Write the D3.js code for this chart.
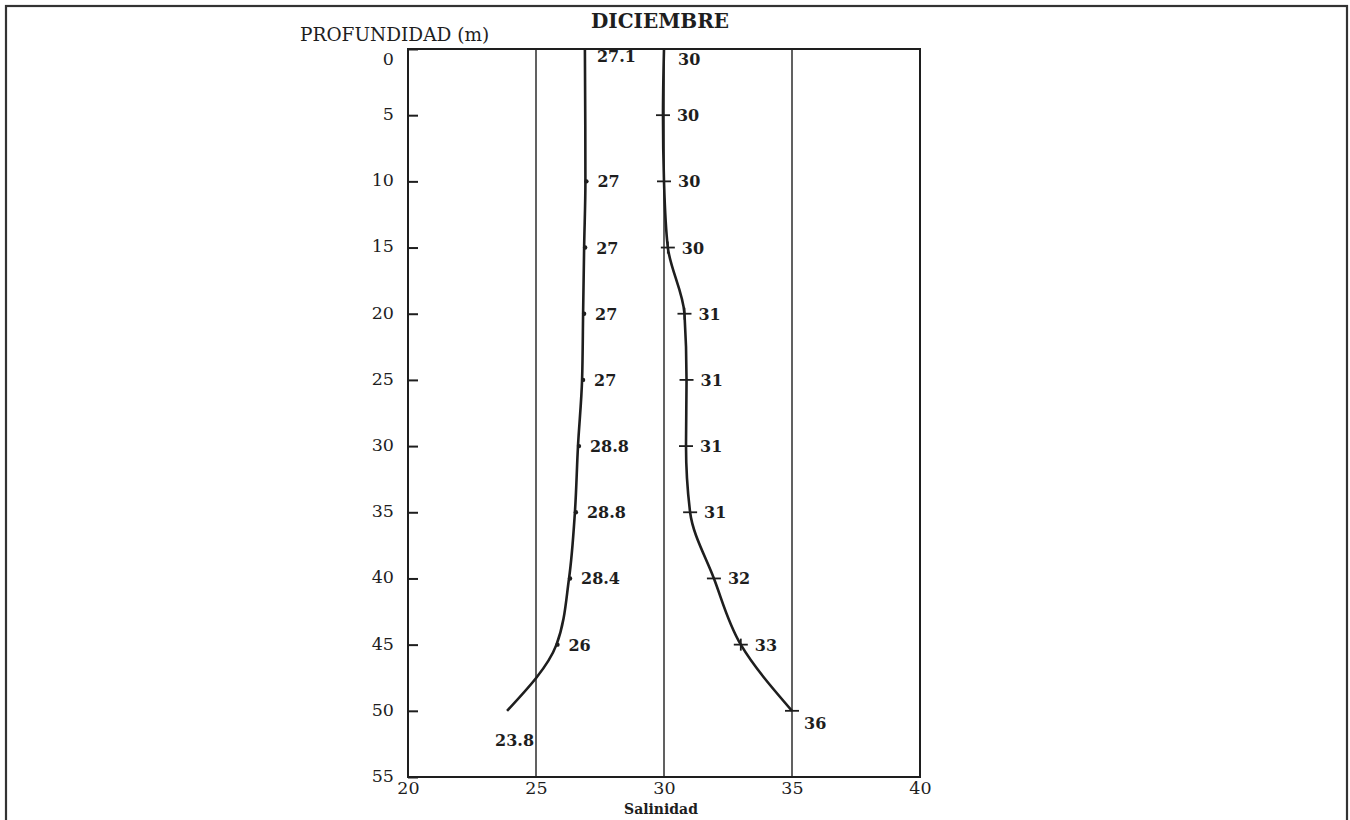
<!DOCTYPE html>
<html><head><meta charset="utf-8">
<script src="https://cdn.jsdelivr.net/npm/d3@7"></script>
<style>body{margin:0;background:#fff}svg{display:block}</style>
</head><body><svg id="c" width="1350" height="820"></svg>
<script>
// ---- data ----
const xTicks = [20, 25, 30, 35, 40];
const gridValues = [25, 30, 35];
const yTicks = [0, 5, 10, 15, 20, 25, 30, 35, 40, 45, 50, 55];

// temperature-like profile (left curve): depth, plotted position, printed label
const tempDepths = [0, 10, 15, 20, 25, 30, 35, 40, 45, 50];
const tempPos    = [26.91, 26.93, 26.88, 26.84, 26.8, 26.64, 26.52, 26.29, 25.8, 23.87];
const tempLabels = ["27.1", "27", "27", "27", "27", "28.8", "28.8", "28.4", "26", "23.8"];

// salinity profile (right curve)
const salDepths = [0, 5, 10, 15, 20, 25, 30, 35, 40, 45, 50];
const salPos    = [30.0, 29.96, 30.0, 30.15, 30.8, 30.88, 30.86, 31.02, 31.95, 33.0, 35.0];
const salLabels = ["30", "30", "30", "30", "31", "31", "31", "31", "32", "33", "36"];
const salMarks  = ["", "-", "+", "+", "+", "-", "-", "-", "-", "+", "-"];

// ---- drawing ----
const ink = "#1e1e1e";
const svg = d3.select("#c");
const L = 408, R = 920, T = 49, B = 777;
const x = d3.scaleLinear().domain([20, 40]).range([L, R]);
const y = d3.scaleLinear().domain([0, 55]).range([T, B]);

// outer border
svg.append("rect").attr("x", 6).attr("y", 6).attr("width", 1341).attr("height", 830)
  .attr("fill", "none").attr("stroke", "#333").attr("stroke-width", 2.2);

// gridlines
svg.append("g").selectAll("line").data(gridValues).join("line")
  .attr("x1", d => x(d)).attr("x2", d => x(d)).attr("y1", T).attr("y2", B)
  .attr("stroke", ink).attr("stroke-width", 1.4);

// frame
svg.append("rect").attr("x", L).attr("y", T).attr("width", R - L).attr("height", B - T)
  .attr("fill", "none").attr("stroke", ink).attr("stroke-width", 2);

// y axis
const yAxis = svg.append("g").attr("transform", `translate(${L},0)`)
  .call(d3.axisLeft(y).tickValues(yTicks).tickSize(-10).tickPadding(14).tickFormat(d3.format("d")));
yAxis.select(".domain").remove();
yAxis.selectAll(".tick line").attr("stroke", ink).attr("stroke-width", 2);
yAxis.selectAll(".tick text")
  .attr("font-family", "'DejaVu Serif', serif").attr("font-size", 17.5).attr("fill", ink)
  .attr("dy", d => d === 0 ? "0.9em" : "0.25em");

// x axis
const xAxis = svg.append("g").attr("transform", `translate(0,${B})`)
  .call(d3.axisBottom(x).tickValues(xTicks).tickSize(0).tickPadding(5));
xAxis.select(".domain").remove();
xAxis.selectAll(".tick text")
  .attr("font-family", "'DejaVu Serif', serif").attr("font-size", 17.5).attr("fill", ink);

// titles
svg.append("text").attr("x", 660).attr("y", 28).attr("text-anchor", "middle")
  .attr("font-family", "'DejaVu Serif', serif").attr("font-weight", "bold").attr("font-size", 20)
  .attr("fill", ink).text("DICIEMBRE");
svg.append("text").attr("x", 300).attr("y", 41)
  .attr("font-family", "'DejaVu Serif', serif").attr("font-size", 18.5)
  .attr("fill", ink).text("PROFUNDIDAD (m)");
svg.append("text").attr("x", 661).attr("y", 814).attr("text-anchor", "middle")
  .attr("font-family", "'DejaVu Serif', serif").attr("font-weight", "bold").attr("font-size", 14)
  .attr("fill", ink).text("Salinidad");

const line = d3.line().x(d => x(d[0])).y(d => y(d[1])).curve(d3.curveMonotoneY);

// temperature curve
const tempData = tempDepths.map((d, i) => [tempPos[i], d, tempLabels[i]]);
svg.append("path").datum(tempData).attr("d", line)
  .attr("fill", "none").attr("stroke", ink).attr("stroke-width", 2.6);
svg.append("g").selectAll("circle").data(tempData.filter(d => d[1] > 0 && d[1] < 50)).join("circle")
  .attr("cx", d => x(d[0]) + 1).attr("cy", d => y(d[1])).attr("r", 2.2).attr("fill", ink);
svg.append("g").selectAll("text").data(tempData).join("text")
  .attr("x", d => d[1] === 50 ? x(d[0]) - 12 : x(d[0]) + 12)
  .attr("y", d => d[1] === 0 ? y(d[1]) + 13 : d[1] === 50 ? y(d[1]) + 35 : y(d[1]) + 6)
  .attr("font-family", "'DejaVu Serif', serif").attr("font-weight", "bold").attr("font-size", 16)
  .attr("fill", ink).text(d => d[2]);

// salinity curve
const salData = salDepths.map((d, i) => [salPos[i], d, salLabels[i], salMarks[i]]);
svg.append("path").datum(salData).attr("d", line)
  .attr("fill", "none").attr("stroke", ink).attr("stroke-width", 2.6);
const mk = svg.append("g").selectAll("g").data(salData.filter(d => d[3] !== "")).join("g")
  .attr("transform", d => `translate(${x(d[0])},${y(d[1])})`);
mk.append("line").attr("x1", -7).attr("x2", 7).attr("stroke", ink).attr("stroke-width", 1.8);
mk.filter(d => d[3] === "+").append("line").attr("y1", -6).attr("y2", 6)
  .attr("stroke", ink).attr("stroke-width", 1.8);
svg.append("g").selectAll("text").data(salData).join("text")
  .attr("x", d => x(d[0]) + (d[1] === 50 ? 12 : 14))
  .attr("y", d => d[1] === 0 ? y(d[1]) + 16 : d[1] === 50 ? y(d[1]) + 18 : y(d[1]) + 6)
  .attr("font-family", "'DejaVu Serif', serif").attr("font-weight", "bold").attr("font-size", 16)
  .attr("fill", ink).text(d => d[2]);
</script>
</body></html>
